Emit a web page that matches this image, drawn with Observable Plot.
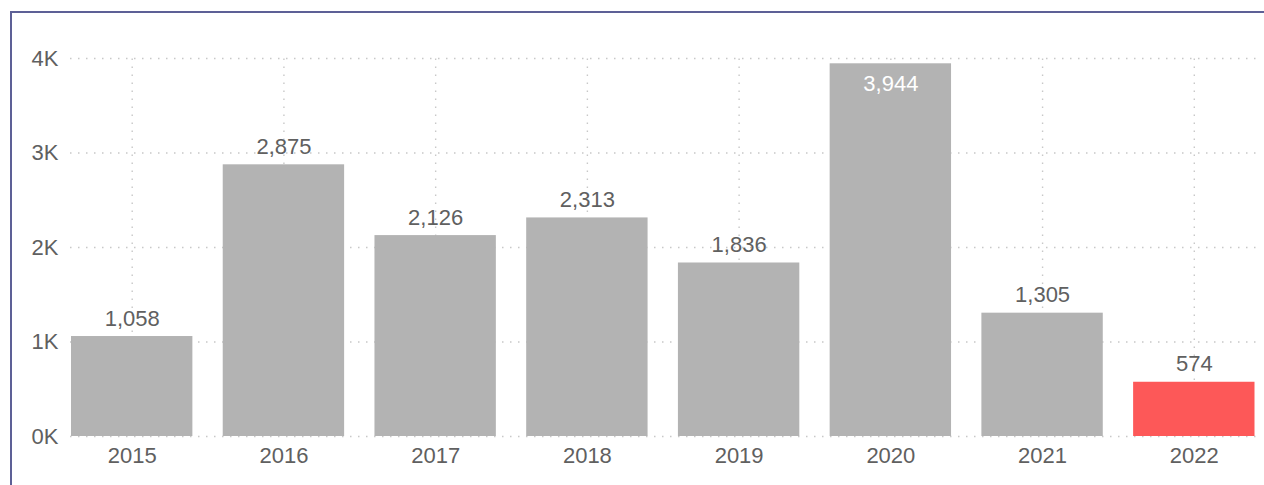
<!DOCTYPE html>
<html>
<head>
<meta charset="utf-8">
<script src="https://cdn.jsdelivr.net/npm/d3@7"></script>
<script src="https://cdn.jsdelivr.net/npm/@observablehq/plot@0.6"></script>
<style>
  html, body { margin: 0; padding: 0; background: #fff; overflow: hidden; }
  #wrap { position: relative; width: 1264px; height: 485px; }
  #frame { position: absolute; left: 10px; top: 11px; width: 1300px; height: 520px;
           border-left: 2px solid #5d6096; border-top: 2px solid #5d6096; box-sizing: border-box; }
  #chart { position: absolute; left: 0; top: 0; }
</style>
</head>
<body>
<div id="wrap">
  <div id="frame"></div>
  <div id="chart"></div>
</div>
<script>
const years = ["2015", "2016", "2017", "2018", "2019", "2020", "2021", "2022"];
const values = [1058, 2875, 2126, 2313, 1836, 3944, 1305, 574];
const highlight = ["2022"];
const yTicks = [0, 1000, 2000, 3000, 4000];

const data = years.map((y, i) => ({year: y, value: values[i], hi: highlight.includes(y)}));
const fmt = d3.format(",");
const insideThreshold = 3700;
const textColor = "#606060";
const gridStyle = {stroke: "#c8c8c8", strokeWidth: 1.4, strokeDasharray: "1.5,6.5"};

const chart = Plot.plot({
  width: 1264,
  height: 485,
  marginTop: 58,
  marginBottom: 49,
  marginLeft: 70,
  marginRight: 2,
  style: {fontFamily: "'Liberation Sans', Arial, sans-serif", fontSize: "22px", color: textColor, background: "transparent"},
  x: {domain: years, range: [71, 1254.5], paddingInner: 0.2, paddingOuter: 0, round: false, label: null},
  y: {domain: [0, 4000], label: null},
  marks: [
    Plot.ruleY(yTicks, {y: d => d, ...gridStyle}),
    Plot.ruleX(data, {x: "year", y1: 0, y2: 4000, ...gridStyle}),
    Plot.barY(data, {x: "year", y: "value", fill: d => d.hi ? "#fd5858" : "#b3b3b3"}),
    Plot.text(data.filter(d => d.value <= insideThreshold), {x: "year", y: "value", text: d => fmt(d.value), dy: -18, fill: textColor, fontSize: 22}),
    Plot.text(data.filter(d => d.value > insideThreshold), {x: "year", y: "value", text: d => fmt(d.value), dy: 20, fill: "#ffffff", fontSize: 22}),
    Plot.axisY({ticks: yTicks, tickFormat: d => (d / 1000) + "K", tickSize: 0, tickPadding: 12, fontSize: 22, fill: textColor}),
    Plot.axisX({tickSize: 0, tickPadding: 11, fontSize: 22, fill: textColor})
  ]
});
document.getElementById("chart").appendChild(chart);
</script>
</body>
</html>
